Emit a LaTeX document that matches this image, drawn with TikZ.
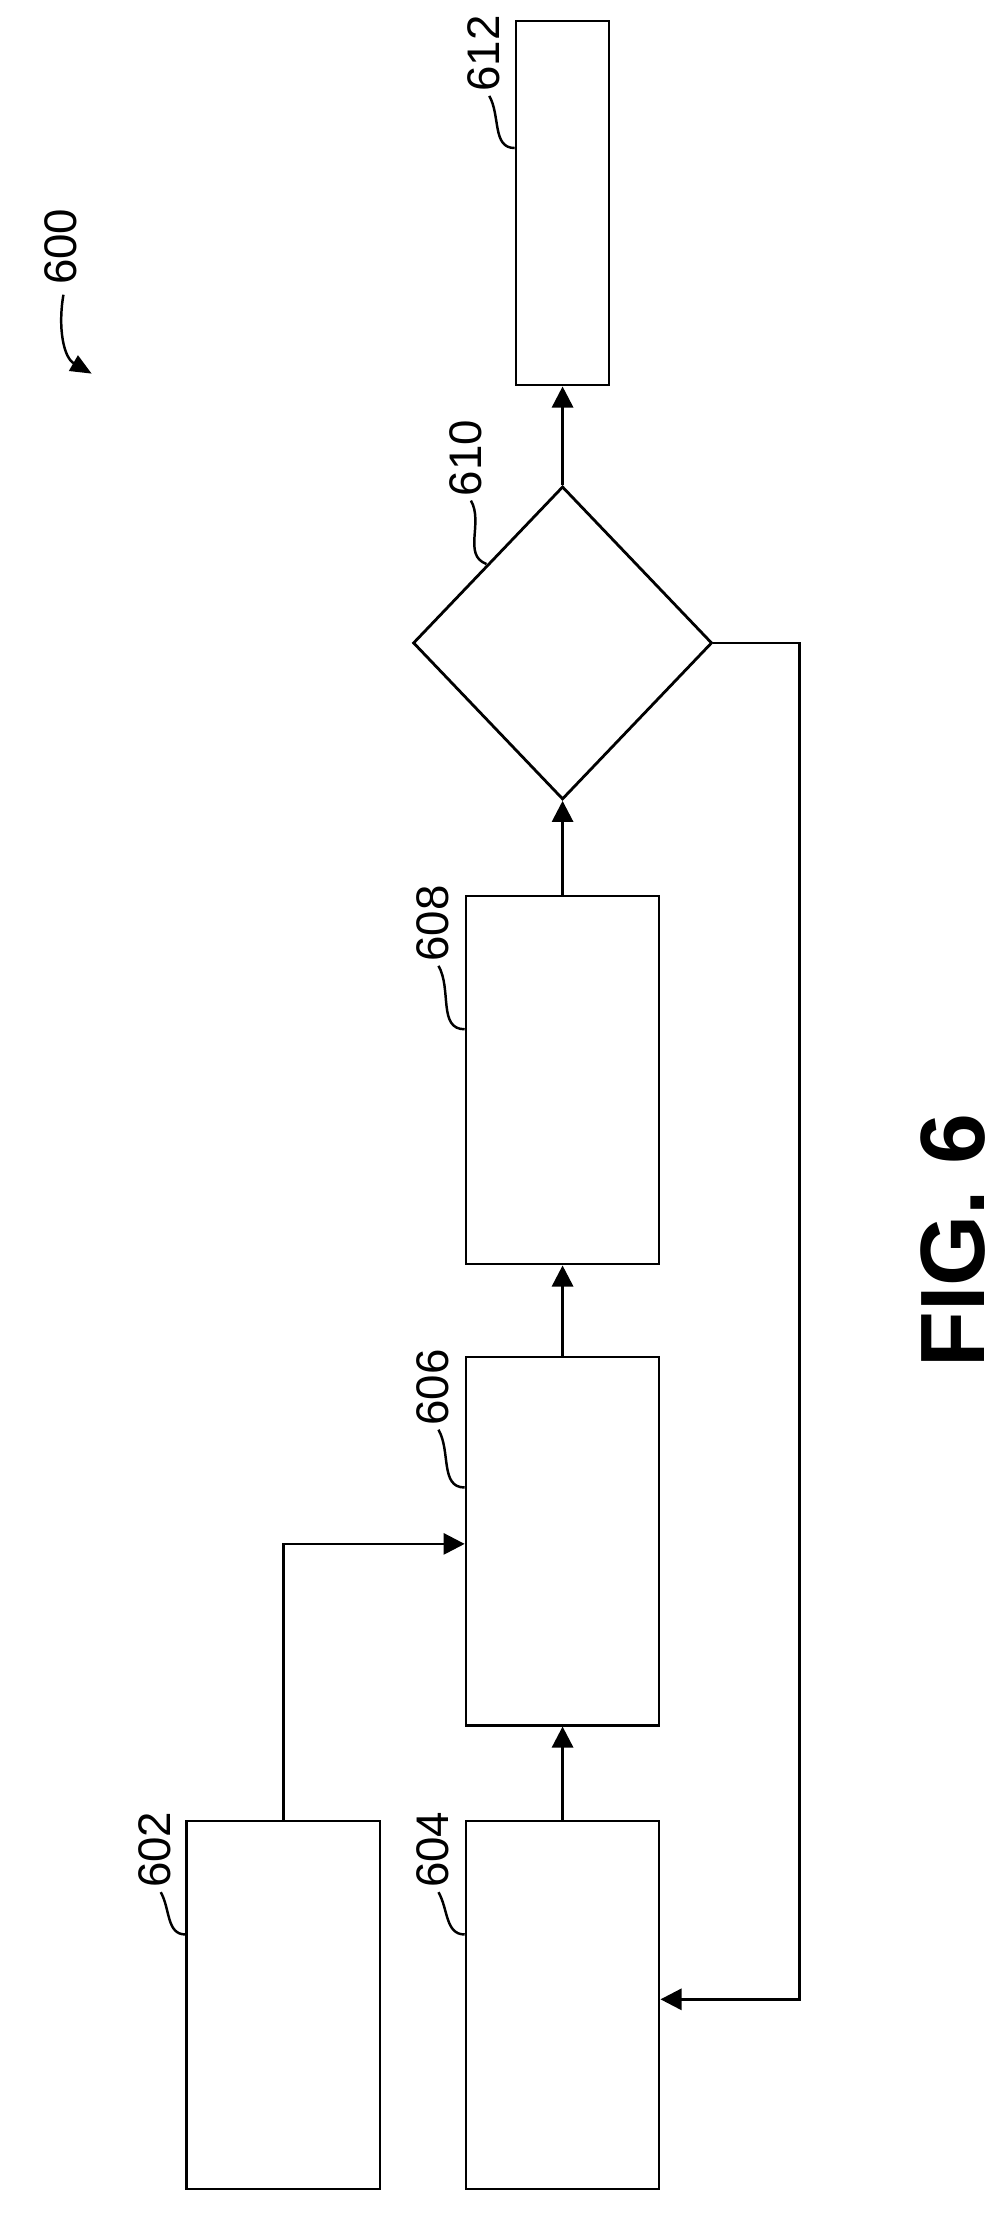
\documentclass[tikz,border=0pt]{standalone}
\usepackage{fontspec}
\setmainfont{Liberation Sans}
\usetikzlibrary{shapes.geometric, arrows.meta, positioning}

\begin{document}
\begin{tikzpicture}[
        x=0.0141cm, y=-0.0141cm,
        block/.style={rectangle, draw, line width=0.8pt, minimum width=1.93cm, minimum height=3.68cm, inner sep=0pt},
        decision/.style={diamond, draw, line width=0.8pt, minimum width=2.99cm, minimum height=3.13cm, inner sep=0pt},
        flow/.style={-{Triangle[length=6pt, width=6pt]}, line width=0.8pt},
        leader/.style={line width=0.7pt},
        ref/.style={rotate=90, font=\fontsize{13}{13}\selectfont, inner sep=1pt}
    ]
        \useasboundingbox (0,0) rectangle (713,1588);

        \node[block] (box602) at (201,1422) {};
        \node[block] (box604) at (399,1422) {};
        \node[block] (box606) at (399,1093) {};
        \node[block] (box608) at (399,766) {};
        \node[decision] (dec610) at (399,456) {};
        \node[block, minimum width=0.93cm, minimum height=3.64cm] (box612) at (399,144) {};

        % Flow
        \draw[flow] (box602.north) |- (box606.west |- 0,1095);
        \draw[flow] (box604) -- (box606);
        \draw[flow] (box606) -- (box608);
        \draw[flow] (box608) -- (dec610);
        \draw[flow] (dec610) -- (box612);
        \coordinate (loopA) at (dec610.east -| 567,0);
        \coordinate (loopB) at (567,1418);
        \draw[flow] (dec610.east) -- (loopA) -- (loopB) -- (box604.east |- loopB);

        % Reference numerals
        \node[ref] (lab602) at (110,1312) {602};
        \node[ref] (lab604) at (307,1312) {604};
        \node[ref] (lab606) at (307,984) {606};
        \node[ref] (lab608) at (307,655) {608};
        \node[ref] (lab610) at (330,325) {610};
        \node[ref] (lab612) at (343,38) {612};
        \node[ref] (lab600) at (43,175) {600};
        \draw[leader] (lab602.west) ++(4,0) to[out=-60, in=180] (box602.west |- 0,1372);
        \draw[leader] (lab604.west) ++(4,0) to[out=-60, in=180] (box604.west |- 0,1372);
        \draw[leader] (lab606.west) ++(4,0) to[out=-60, in=180] (box606.west |- 0,1055);
        \draw[leader] (lab608.west) ++(4,0) to[out=-60, in=180] (box608.west |- 0,730);
        \draw[leader] (lab610.west) ++(4,0) to[out=-60, in=160] (345,400);
        \draw[leader] (lab612.west) ++(4,0) to[out=-60, in=180] (box612.west |- 0,105);
        \draw[leader, -{Triangle[length=6pt, width=5pt]}] (lab600.west) ++(2,4) to[out=-100, in=150] (65,265);

        \node[rotate=90, font=\fontsize{26}{26}\selectfont\bfseries] (fig) at (676,880) {FIG. 6};
\end{tikzpicture}
\end{document}
